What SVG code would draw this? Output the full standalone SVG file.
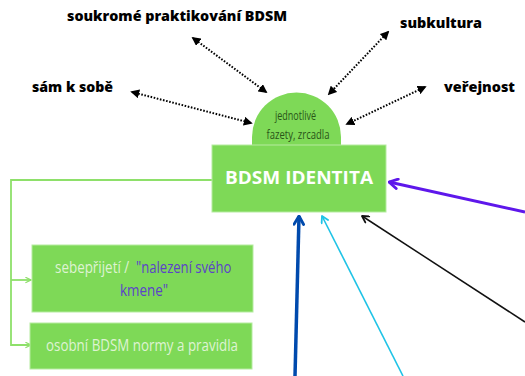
<svg xmlns="http://www.w3.org/2000/svg" width="525" height="376" viewBox="0 0 525 376">
<defs>
<style>
.lbl{font-family:"Open Sans","DejaVu Sans",sans-serif;font-weight:800;font-size:14px;fill:#000}
.box{fill:#7ed957;stroke:#b5eba0;stroke-width:1}
.cond{font-family:"Open Sans","Liberation Sans",sans-serif;font-weight:400}
.dot{fill:none;stroke:#000;stroke-width:2;stroke-dasharray:1.6 1.6;marker-start:url(#dh);marker-end:url(#dh)}
</style>
<marker id="dh" viewBox="0 0 10 10" refX="8" refY="5" markerWidth="4.5" markerHeight="4.5" orient="auto-start-reverse" markerUnits="strokeWidth">
<path d="M0,0 L10,5 L0,10 z" fill="#000"/>
</marker>
<marker id="gh" viewBox="0 0 10 10" refX="9" refY="5" markerWidth="7" markerHeight="7" orient="auto" markerUnits="userSpaceOnUse">
<path d="M1,1 L9,5 L1,9" fill="none" stroke="#8ee06a" stroke-width="1.8"/>
</marker>
<marker id="vpur" viewBox="0 0 10 10" refX="9" refY="5" markerWidth="12" markerHeight="12" orient="auto" markerUnits="userSpaceOnUse">
<path d="M2,1 L9,5 L2,9" fill="none" stroke="#5e17eb" stroke-width="2.4" stroke-linecap="round" stroke-linejoin="round"/>
</marker>
<marker id="vblu" viewBox="0 0 10 10" refX="9" refY="5" markerWidth="12" markerHeight="12" orient="auto" markerUnits="userSpaceOnUse">
<path d="M2,1 L9,5 L2,9" fill="none" stroke="#004aad" stroke-width="2.4" stroke-linecap="round" stroke-linejoin="round"/>
</marker>
<marker id="vcy" viewBox="0 0 10 10" refX="9" refY="5" markerWidth="9" markerHeight="9" orient="auto" markerUnits="userSpaceOnUse">
<path d="M2,1 L9,5 L2,9" fill="none" stroke="#1fc3e6" stroke-width="2" stroke-linecap="round" stroke-linejoin="round"/>
</marker>
<marker id="vbk" viewBox="0 0 10 10" refX="9" refY="5" markerWidth="9" markerHeight="9" orient="auto" markerUnits="userSpaceOnUse">
<path d="M2,1 L9,5 L2,9" fill="none" stroke="#111" stroke-width="2" stroke-linecap="round" stroke-linejoin="round"/>
</marker>
</defs>
<rect width="525" height="376" fill="#fff"/>

<g id="connectors">
<path class="dot" d="M193,38 L266,92"/>
<path class="dot" d="M388,32 L329,94"/>
<path class="dot" d="M132,92 L251,123"/>
<path class="dot" d="M425,87 L347,124"/>
<path d="M212,180 L11,180 L11,345 L31,345" fill="none" stroke="#8ee06a" stroke-width="1.8" marker-end="url(#gh)"/>
<path d="M11,280 L31,280" fill="none" stroke="#8ee06a" stroke-width="1.8" marker-end="url(#gh)"/>
<path d="M525,212 L389,182" fill="none" stroke="#5e17eb" stroke-width="3" marker-end="url(#vpur)"/>
<path d="M525,322 L362,216" fill="none" stroke="#111" stroke-width="1.5" marker-end="url(#vbk)"/>
<path d="M403,376 L322,216" fill="none" stroke="#1fc3e6" stroke-width="1.6" marker-end="url(#vcy)"/>
<path d="M295,376 L299,216" fill="none" stroke="#004aad" stroke-width="3.5" marker-end="url(#vblu)"/>
</g>

<g id="label-soukrome"><text class="lbl" x="67" y="21" textLength="220" lengthAdjust="spacingAndGlyphs">soukromé praktikování BDSM</text></g>
<g id="label-subkultura"><text class="lbl" x="400" y="28" textLength="82" lengthAdjust="spacingAndGlyphs">subkultura</text></g>
<g id="label-sam"><text class="lbl" x="32" y="92" textLength="81" lengthAdjust="spacingAndGlyphs">sám k sobě</text></g>
<g id="label-verejnost"><text class="lbl" x="444" y="92" textLength="71" lengthAdjust="spacingAndGlyphs">veřejnost</text></g>

<g id="dome">
<path d="M252,145 L252,137 A44.5,44.5 0 0 1 341,137 L341,145 Z" fill="#7ed957"/>
<text class="cond" x="295.5" y="120" font-size="13" fill="#2a5518" text-anchor="middle" textLength="41" lengthAdjust="spacingAndGlyphs">jednotlivé</text>
<text class="cond" x="298" y="139" font-size="13" fill="#2a5518" text-anchor="middle" textLength="63" lengthAdjust="spacingAndGlyphs">fazety, zrcadla</text>
</g>

<g id="bdsm-identita">
<rect class="box" x="212" y="145" width="174" height="67"/>
<text x="299" y="184" font-family="'Open Sans','DejaVu Sans',sans-serif" font-weight="bold" font-size="17" fill="#fff" text-anchor="middle" textLength="148" lengthAdjust="spacingAndGlyphs">BDSM IDENTITA</text>
</g>

<g id="sebeprijeti">
<rect class="box" x="32" y="245" width="221" height="67"/>
<text class="cond" transform="translate(55,273) scale(0.79,1)" font-size="17" fill="#def3d3">sebepřijetí /</text>
<text class="cond" transform="translate(136,273) scale(0.77,1)" font-size="17" fill="#5b43c9">"nalezení svého</text>
<text class="cond" transform="translate(120,296) scale(0.79,1)" font-size="17" fill="#5b43c9">kmene"</text>
</g>

<g id="normy">
<rect class="box" x="30" y="323" width="222" height="46"/>
<text class="cond" x="46" y="351" font-size="17" fill="#def3d3" textLength="192" lengthAdjust="spacingAndGlyphs">osobní BDSM normy a pravidla</text>
</g>
</svg>
